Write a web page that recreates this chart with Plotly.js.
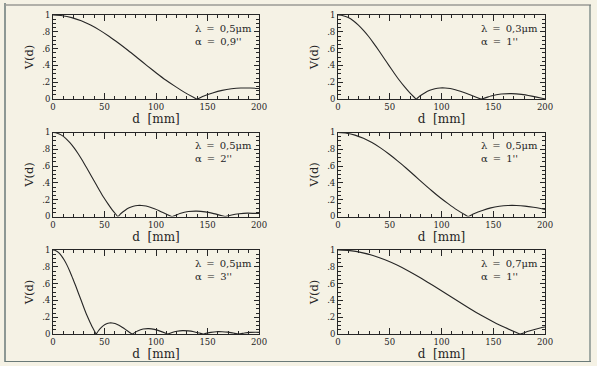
<!DOCTYPE html>
<html><head><meta charset="utf-8">
<script src="https://cdn.plot.ly/plotly-3.0.1.min.js"></script>
<style>html,body{margin:0;padding:0;background:#f5f2e5;}#c{width:597px;height:366px;}</style>
</head><body><div id="c"></div>
<script>
// Panel 1: lambda 0,5 um, alpha 0,9"
const d1 = [0,9.1,18.2,27.4,36.5,45.6,54.7,63.8,73.0,82.1,91.2,100.3,109.4,118.6,127.7,136.8,139.8,145.9,155.0,164.2,173.3,182.4,191.5,200];
const v1 = [1,.992,.969,.931,.880,.817,.744,.663,.577,.488,.398,.310,.226,.150,.079,.018,0,.033,.072,.103,.122,.131,.131,.125];
// Panel 2: lambda 0,3 um, alpha 1"
const d2 = [0,4.9,9.9,14.8,19.7,24.6,29.6,34.5,39.4,44.3,49.3,54.2,59.1,64.0,69.0,73.9,75.5,78.8,83.7,88.7,93.6,98.5,103.4,108.4,113.3,118.2,123.1,128.1,133.0,138.3,147.8,157.6,167.5,177.3,187.2,197.0,200];
const v2 = [1,.992,.969,.931,.880,.817,.744,.663,.577,.488,.398,.310,.226,.150,.079,.018,0,.033,.072,.103,.122,.131,.131,.124,.110,.092,.071,.047,.024,0,.036,.059,.064,.055,.034,.009,.003];
// Panel 3: lambda 0,5 um, alpha 2"
const d3 = [0,4.1,8.2,12.3,16.4,20.5,24.6,28.7,32.8,36.9,41.1,45.2,49.3,53.4,57.5,61.6,62.9,65.7,69.8,73.9,78.0,82.1,86.2,90.3,94.4,98.5,102.6,106.7,110.8,115.3,123.2,131.4,139.6,147.8,156.0,164.2,167.0,172.4,180.6,188.8,197.0,200];
const v3 = [1,.992,.969,.931,.880,.817,.744,.663,.577,.488,.398,.310,.226,.150,.079,.018,0,.033,.072,.103,.122,.131,.131,.124,.110,.092,.071,.047,.024,0,.036,.059,.064,.055,.034,.009,0,.015,.032,.040,.037,.035];
// Panel 4: lambda 0,5 um, alpha 1"
const d4 = [0,8.2,16.4,24.6,32.8,41.0,49.2,57.5,65.7,73.9,82.1,90.3,98.5,106.7,114.9,123.1,125.8,131.3,139.5,147.7,155.9,164.2,172.4,180.6,188.8,197.0,200];
const v4 = [1,.992,.969,.931,.880,.817,.744,.663,.577,.488,.398,.310,.226,.150,.079,.018,0,.033,.072,.103,.122,.131,.131,.124,.110,.092,.085];
// Panel 5: lambda 0,5 um, alpha 3"
const d5 = [0,2.7,5.5,8.2,10.9,13.7,16.4,19.1,21.9,24.6,27.4,30.1,32.8,35.6,38.3,41.0,41.9,43.8,46.5,49.2,52.0,54.7,57.4,60.2,62.9,65.6,68.4,71.1,73.8,76.8,82.1,87.5,93.0,98.5,103.9,109.4,111.3,114.9,120.3,125.8,131.3,136.8,142.2,145.8,147.7,153.2,158.6,164.1,169.6,175.0,180.2,186.0,191.5,196.9,200];
const v5 = [1,.992,.969,.931,.880,.817,.744,.663,.577,.488,.398,.310,.226,.150,.079,.018,0,.033,.072,.103,.122,.131,.131,.124,.110,.092,.071,.047,.024,0,.036,.059,.064,.055,.034,.009,0,.015,.032,.040,.037,.027,.011,0,.006,.019,.027,.027,.022,.011,0,.012,.019,.021,.019];
// Panel 6: lambda 0,7 um, alpha 1"
const d6 = [0,11.5,23.0,34.5,46.0,57.5,68.9,80.4,91.9,103.4,114.9,126.4,137.9,149.4,160.9,172.4,176.1,183.8,195.3,200];
const v6 = [1,.992,.969,.931,.880,.817,.744,.663,.577,.488,.398,.310,.226,.150,.079,.018,0,.033,.072,.083];

const lambdas = ['0,5', '0,3', '0,5', '0,5', '0,5', '0,7'];
const alphas = ['0,9', '1', '2', '1', '3', '1'];
const X_TICKS = [0, 50, 100, 150, 200];
const Y_TICKS = [0, .2, .4, .6, .8, 1];
const Y_LABELS = ['0', '.2', '.4', '.6', '.8', '1'];

const D = [d1, d2, d3, d4, d5, d6];
const V = [v1, v2, v3, v4, v5, v6];

const W = 597, H = 366;
const colsPx = [[53, 259], [338, 545]];
const rowsPx = [[15, 99], [132.5, 216.5], [250, 334]];
const ink = '#262626';
const font = 'DejaVu Serif';

const traces = [];
const layout = {
  width: W, height: H,
  margin: {l: 0, r: 0, t: 0, b: 0},
  paper_bgcolor: '#f5f2e5', plot_bgcolor: '#f5f2e5',
  showlegend: false,
  font: {family: font, color: ink},
  annotations: [],
  shapes: [
    {type: 'line', xref: 'paper', yref: 'paper', x0: 5/W, x1: 5/W, y0: 1-3/H, y1: 1-362/H, line: {color: '#6a7a78', width: 1.5}},
    {type: 'line', xref: 'paper', yref: 'paper', x0: 5/W, x1: 591/W, y0: 1-5/H, y1: 1-5/H, line: {color: '#9a9a94', width: 1.5}},
    {type: 'line', xref: 'paper', yref: 'paper', x0: 590/W, x1: 590/W, y0: 1-5/H, y1: 1-362/H, line: {color: '#6a7a78', width: 1.2}},
    {type: 'line', xref: 'paper', yref: 'paper', x0: 5/W, x1: 591/W, y0: 1-361.5/H, y1: 1-361.5/H, line: {color: '#6a7a78', width: 1.2}}
  ]
};

for (let i = 0; i < 6; i++) {
  const col = i % 2, row = Math.floor(i / 2);
  const n = i === 0 ? '' : String(i + 1);
  traces.push({
    x: D[i], y: V[i], type: 'scatter', mode: 'lines',
    xaxis: 'x' + n, yaxis: 'y' + n,
    line: {color: ink, width: 1.1, shape: 'spline', smoothing: 0.6},
    hoverinfo: 'skip'
  });
  const xd = [colsPx[col][0] / W, colsPx[col][1] / W];
  const yd = [1 - rowsPx[row][1] / H, 1 - rowsPx[row][0] / H];
  layout['xaxis' + n] = {
    domain: xd, anchor: 'y' + n, range: [0, 200],
    tickmode: 'array', tickvals: X_TICKS, ticktext: X_TICKS.map(String),
    ticks: 'inside', ticklen: 6, tickwidth: 1, tickcolor: ink,
    minor: {tickmode: 'linear', tick0: 0, dtick: 10, ticks: 'inside', ticklen: 3, tickcolor: ink, tickwidth: 1},
    showline: true, linecolor: ink, linewidth: 1, mirror: 'allticks',
    showgrid: false, zeroline: false, fixedrange: true,
    tickfont: {family: font, size: 8.5, color: ink},
    title: {text: 'd\u00a0\u00a0[mm]', font: {family: font, size: 12, color: ink}, standoff: 2}
  };
  layout['yaxis' + n] = {
    domain: yd, anchor: 'x' + n, range: [0, 1],
    tickmode: 'array', tickvals: Y_TICKS, ticktext: Y_LABELS,
    ticks: 'inside', ticklen: 5, tickwidth: 1, tickcolor: ink,
    minor: {tickmode: 'linear', tick0: 0, dtick: 0.05, ticks: 'inside', ticklen: 3, tickcolor: ink, tickwidth: 1},
    showline: true, linecolor: ink, linewidth: 1, mirror: 'allticks',
    showgrid: false, zeroline: false, fixedrange: true,
    tickfont: {family: font, size: 8.5, color: ink},
    title: {text: 'V(d)', font: {family: font, size: 11.5, color: ink}, standoff: 6}
  };
  layout.annotations.push({
    xref: 'x' + n + ' domain', yref: 'y' + n + ' domain',
    x: 0.68, y: 0.93, xanchor: 'left', yanchor: 'top', align: 'left',
    showarrow: false,
    text: 'λ\u2002=\u2002' + lambdas[i] + 'μm<br>α\u2002=\u2002' + alphas[i] + "''",
    font: {family: font, size: 10, color: ink}
  });
}

Plotly.newPlot('c', traces, layout, {staticPlot: true, displayModeBar: false});
</script></body></html>
